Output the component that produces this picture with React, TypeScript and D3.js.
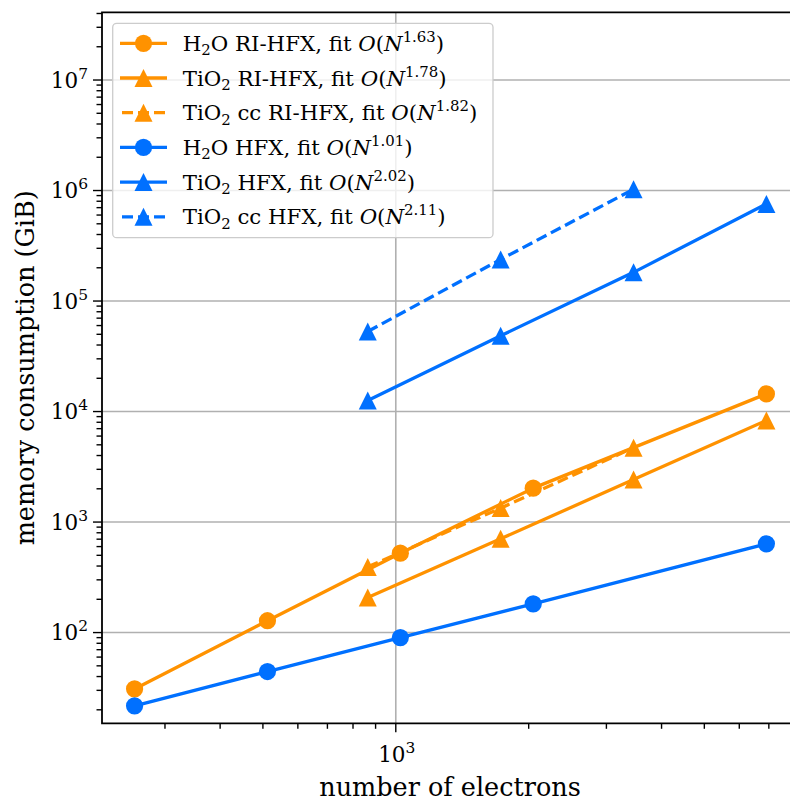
import React, { useRef, useEffect } from 'react';
import { select, scaleLog, line } from 'd3';

// electrons per system
const h2oElectrons = [256, 512, 1024, 2048, 6912];
const tio2Electrons = [864, 1728, 3456, 6912];
const tio2ccElectrons = [864, 1728, 3456];

// memory consumption (GiB)
const h2oRiHfx = [30.9, 128, 523, 2027, 14450];
const tio2RiHfx = [208, 705, 2424, 8318];
const tio2ccRiHfx = [393, 1337, 4711, 16830];
const h2oHfx = [21.7, 44.4, 90.1, 181.6, 635];
const tio2Hfx = [12580, 48500, 181800, 757000];
const tio2ccHfx = [52960, 238000, 1026000];

const seriesNames = ['H2O RI-HFX', 'TiO2 RI-HFX', 'TiO2 cc RI-HFX', 'H2O HFX', 'TiO2 HFX', 'TiO2 cc HFX'];
const fitExponents = ['1.63', '1.78', '1.82', '1.01', '2.02', '2.11'];

const xMajorTicks = [1000];
const yMajorTicks = [1e2, 1e3, 1e4, 1e5, 1e6, 1e7];

const ORANGE = '#ff9200';
const BLUE = '#0070ff';
const FONT = '"DejaVu Serif", serif';
const TICK_FS = 21.5;
const LABEL_FS = 25.5;
const LEGEND_FS = 21.3;

const W = 790;
const H = 801;
const left = 102, right = 798, top = 12.3, bottom = 723.3;

const Chart = () => {
  const svgRef = useRef<SVGSVGElement>(null);

  useEffect(() => {
    const svg = select(svgRef.current);
    svg.selectAll('*').remove();

    const x = scaleLog().domain([216, 8150]).range([left, right]);
    const y = scaleLog().domain([15.1, 4.1e7]).range([bottom, top]);

    const series = [
      { xs: h2oElectrons, ys: h2oRiHfx, color: ORANGE, marker: 'o', dash: null },
      { xs: tio2Electrons, ys: tio2RiHfx, color: ORANGE, marker: '^', dash: null },
      { xs: tio2ccElectrons, ys: tio2ccRiHfx, color: ORANGE, marker: '^', dash: '11,5' },
      { xs: h2oElectrons, ys: h2oHfx, color: BLUE, marker: 'o', dash: null },
      { xs: tio2Electrons, ys: tio2Hfx, color: BLUE, marker: '^', dash: null },
      { xs: tio2ccElectrons, ys: tio2ccHfx, color: BLUE, marker: '^', dash: '11,5' },
    ];

    // minor ticks for log axes
    const minor = (lo: number, hi: number) => {
      const out: number[] = [];
      for (let e = Math.floor(Math.log10(lo)); e <= Math.ceil(Math.log10(hi)); e++) {
        for (let m = 2; m <= 9; m++) {
          const v = m * Math.pow(10, e);
          if (v >= lo && v <= hi) out.push(v);
        }
      }
      return out;
    };
    const xMinor = minor(216, 8150);
    const yMinor = minor(15.1, 4.1e7);

    const clipId = 'plotclip';
    svg.append('defs').append('clipPath').attr('id', clipId)
      .append('rect').attr('x', left).attr('y', top).attr('width', right - left).attr('height', bottom - top);

    // grid
    const grid = svg.append('g').attr('stroke', '#b0b0b0').attr('stroke-width', 1.6);
    yMajorTicks.forEach((v) => {
      grid.append('line').attr('x1', left).attr('x2', right).attr('y1', y(v)).attr('y2', y(v));
    });
    xMajorTicks.forEach((v) => {
      grid.append('line').attr('x1', x(v)).attr('x2', x(v)).attr('y1', top).attr('y2', bottom);
    });

    // series
    const plot = svg.append('g').attr('clip-path', `url(#${clipId})`);
    const tri = (s: number) => `M0,${-s / 2}L${-s / 2},${s / 2}L${s / 2},${s / 2}Z`;
    const drawMarker = (g: any, marker: string, color: string, cx: number, cy: number) => {
      if (marker === 'o') {
        g.append('circle').attr('cx', cx).attr('cy', cy).attr('r', 8.6).attr('fill', color);
      } else {
        g.append('path').attr('d', tri(18)).attr('transform', `translate(${cx},${cy})`).attr('fill', color);
      }
    };
    series.forEach((s) => {
      const pts: [number, number][] = s.xs.map((v, i) => [x(v), y(s.ys[i])]);
      const p = plot.append('path')
        .attr('d', line()(pts))
        .attr('fill', 'none')
        .attr('stroke', s.color)
        .attr('stroke-width', 3.3)
        .attr('stroke-linejoin', 'round');
      if (s.dash) p.attr('stroke-dasharray', s.dash);
      pts.forEach(([cx, cy]) => drawMarker(plot, s.marker, s.color, cx, cy));
    });

    // spines
    const sp = svg.append('g').attr('stroke', '#000').attr('stroke-width', 1.8).attr('fill', 'none');
    sp.append('path').attr('d', `M${right},${top}L${left},${top}L${left},${bottom}L${right},${bottom}`)
      .attr('stroke-linecap', 'square');

    // ticks
    const tk = svg.append('g').attr('stroke', '#000').attr('stroke-width', 1.4);
    xMajorTicks.forEach((v) => tk.append('line').attr('x1', x(v)).attr('x2', x(v)).attr('y1', bottom).attr('y2', bottom + 9));
    xMinor.forEach((v) => tk.append('line').attr('x1', x(v)).attr('x2', x(v)).attr('y1', bottom).attr('y2', bottom + 5.5));
    yMajorTicks.forEach((v) => tk.append('line').attr('y1', y(v)).attr('y2', y(v)).attr('x1', left).attr('x2', left - 9));
    yMinor.forEach((v) => tk.append('line').attr('y1', y(v)).attr('y2', y(v)).attr('x1', left).attr('x2', left - 5.5));

    // tick labels
    const pow = (g: any, v: number, tx: number, ty: number, anchor: string) => {
      const t = g.append('text').attr('x', tx).attr('y', ty).attr('text-anchor', anchor)
        .attr('font-family', FONT).attr('font-size', TICK_FS).attr('fill', '#000');
      t.append('tspan').text('10');
      t.append('tspan').attr('dy', -9).attr('font-size', TICK_FS * 0.72).text(String(Math.round(Math.log10(v))));
    };
    const lab = svg.append('g');
    yMajorTicks.forEach((v) => pow(lab, v, left - 14, y(v) + 7.5, 'end'));
    xMajorTicks.forEach((v) => pow(lab, v, x(v) + 1, bottom + 39, 'middle'));

    // axis labels
    svg.append('text').attr('x', (left + right) / 2).attr('y', 796).attr('text-anchor', 'middle')
      .attr('font-family', FONT).attr('font-size', LABEL_FS).text('number of electrons');
    svg.append('text').attr('transform', `translate(34,${(top + bottom) / 2}) rotate(-90)`)
      .attr('text-anchor', 'middle').attr('font-family', FONT).attr('font-size', LABEL_FS)
      .text('memory consumption (GiB)');

    // legend
    const lg = svg.append('g');
    lg.append('rect').attr('x', 112.7).attr('y', 23.3).attr('width', 380.3).attr('height', 214.4)
      .attr('rx', 4).attr('fill', '#fff').attr('fill-opacity', 0.8).attr('stroke', '#cccccc').attr('stroke-width', 1.3);
    series.forEach((s, i) => {
      const cy = 43.3 + i * 34.7;
      const hl = lg.append('line').attr('x1', 120).attr('x2', 167).attr('y1', cy).attr('y2', cy)
        .attr('stroke', s.color).attr('stroke-width', 3.3);
      if (s.dash) hl.attr('stroke-dasharray', s.dash).attr('stroke-dashoffset', -2);
      drawMarker(lg, s.marker, s.color, 143.5, cy);

      const name = seriesNames[i];
      const t = lg.append('text').attr('x', 182.7).attr('y', cy + 7.5)
        .attr('font-family', FONT).attr('font-size', LEGEND_FS).attr('fill', '#000');
      const m = name.match(/^(H|TiO)2(O?)(.*)$/);
      if (m) {
        t.append('tspan').text(m[1]);
        t.append('tspan').attr('dy', 4.5).attr('font-size', LEGEND_FS * 0.7).text('2');
        t.append('tspan').attr('dy', -4.5).text(m[2] + m[3] + ', fit ');
      } else {
        t.append('tspan').text(name + ', fit ');
      }
      t.append('tspan').attr('font-style', 'italic').text('O');
      t.append('tspan').text('(');
      t.append('tspan').attr('font-style', 'italic').text('N');
      t.append('tspan').attr('dy', -9).attr('font-size', LEGEND_FS * 0.7).text(fitExponents[i]);
      t.append('tspan').attr('dy', 9).text(')');
    });
  }, []);

  return <svg ref={svgRef} width={W} height={H} style={{ display: 'block', background: '#fff' }} />;
};

export default function App() {
  return (
    <div style={{ position: 'absolute', left: 0, top: 0, width: W, height: H, background: '#fff', overflow: 'hidden' }}>
      <Chart />
    </div>
  );
}
